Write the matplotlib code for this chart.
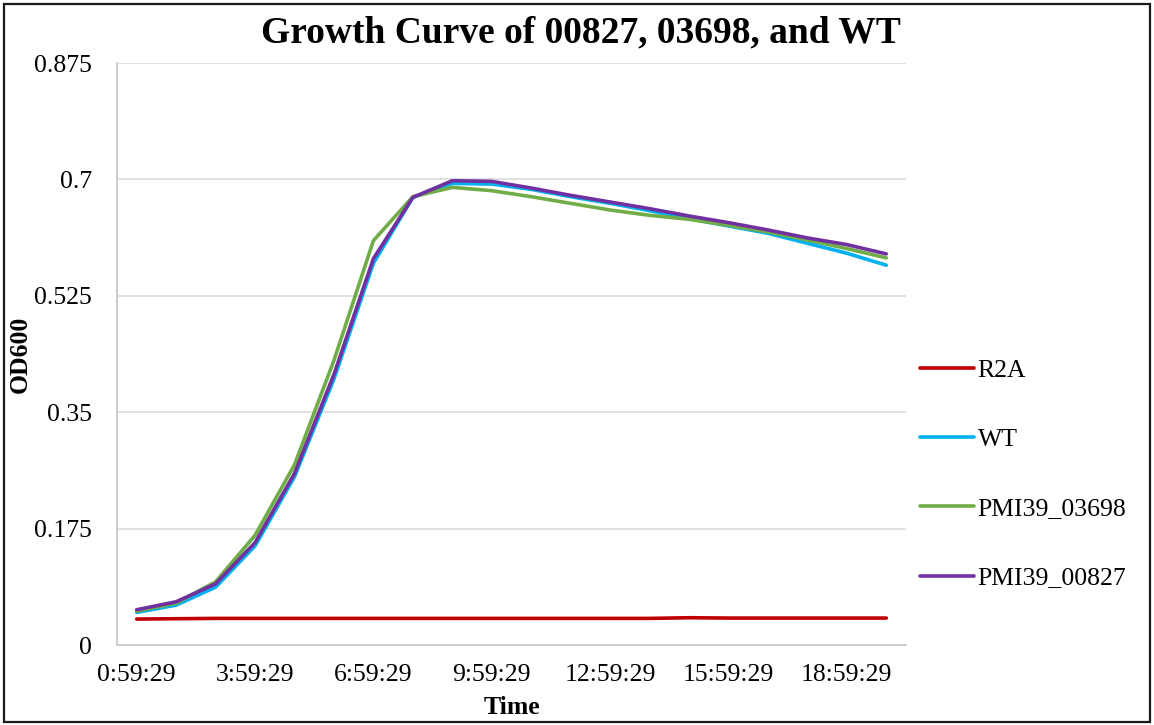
import matplotlib
matplotlib.use("Agg")
import matplotlib.pyplot as plt
from matplotlib.patches import Rectangle

# Hourly sampling times (category axis)
times = ["0:59:29", "1:59:29", "2:59:29", "3:59:29", "4:59:29", "5:59:29",
         "6:59:29", "7:59:29", "8:59:29", "9:59:29", "10:59:29", "11:59:29",
         "12:59:29", "13:59:29", "14:59:29", "15:59:29", "16:59:29",
         "17:59:29", "18:59:29", "19:59:29"]

# OD600 readings
r2a = [0.039, 0.0395, 0.040, 0.040, 0.040, 0.040, 0.040, 0.040, 0.040, 0.040,
       0.040, 0.040, 0.040, 0.040, 0.041, 0.0405, 0.0405, 0.0405, 0.0405, 0.0405]
wt = [0.049, 0.060, 0.087, 0.149, 0.253, 0.400, 0.574, 0.673, 0.694, 0.693,
      0.685, 0.674, 0.664, 0.653, 0.641, 0.630, 0.619, 0.604, 0.589, 0.571]
pmi39_03698 = [0.051, 0.063, 0.095, 0.165, 0.271, 0.428, 0.608, 0.674, 0.688,
               0.683, 0.674, 0.664, 0.654, 0.646, 0.640, 0.631, 0.621, 0.609,
               0.596, 0.582]
pmi39_00827 = [0.053, 0.065, 0.092, 0.154, 0.258, 0.407, 0.581, 0.673, 0.698,
               0.697, 0.687, 0.676, 0.666, 0.656, 0.645, 0.635, 0.624, 0.612,
               0.602, 0.588]

series = [("R2A", r2a, "#C00000"),
          ("WT", wt, "#00B0F0"),
          ("PMI39_03698", pmi39_03698, "#70AD47"),
          ("PMI39_00827", pmi39_00827, "#7030A0")]

y_ticks = [0, 0.175, 0.35, 0.525, 0.7, 0.875]
y_tick_labels = ["0", "0.175", "0.35", "0.525", "0.7", "0.875"]
x_label_every = 3

plt.rcParams["font.family"] = ["Liberation Serif", "DejaVu Serif"]

W, H = 1154, 725
fig = plt.figure(figsize=(W / 100, H / 100), dpi=100)
ax = fig.add_axes([117 / W, 1 - 645 / H, (906 - 117) / W, (645 - 63) / H])

x = list(range(len(times)))
for name, vals, color in series:
    ax.plot(x, vals, color=color, lw=2.6, label=name, solid_capstyle="round",
            solid_joinstyle="round")

ax.set_xlim(-0.5, len(times) - 0.5)
ax.set_ylim(0, 0.875)
ax.set_yticks(y_ticks)
ax.set_yticklabels(y_tick_labels)
ax.set_xticks(x[::x_label_every])
ax.set_xticklabels(times[::x_label_every])
ax.tick_params(axis="y", length=0, pad=18, labelsize=18.5)
ax.tick_params(axis="x", length=0, pad=14, labelsize=18.5)

ax.grid(axis="y", color="#D9D9D9", lw=1.1)
ax.set_axisbelow(True)
for side in ("top", "right"):
    ax.spines[side].set_visible(False)
for side in ("left", "bottom"):
    ax.spines[side].set_color("#C8C8C8")
    ax.spines[side].set_linewidth(1.3)

# Axis titles
fig.text(512 / W, 1 - 708 / H, "Time", ha="center", va="center",
         fontsize=18.5, fontweight="bold")
fig.text(20 / W, 1 - 354 / H, "OD600", ha="center", va="center",
         rotation=90, fontsize=18.5, fontweight="bold")

fig.text(0.503, 0.955, "Growth Curve of 00827, 03698, and WT",
         ha="center", va="center", fontsize=27, fontweight="bold")

fig.legend(loc="center left", bbox_to_anchor=(0.797, 0.346), frameon=False,
           fontsize=18.5, handlelength=2.1, handletextpad=0.15,
           labelspacing=1.8, borderpad=0, borderaxespad=0)

fig.patches.append(Rectangle((4 / W, 3 / H), 1146 / W, 718 / H,
                             transform=fig.transFigure, fill=False,
                             edgecolor="#1a1a1a", lw=1.6))

fig.savefig("out.png", dpi=100)
